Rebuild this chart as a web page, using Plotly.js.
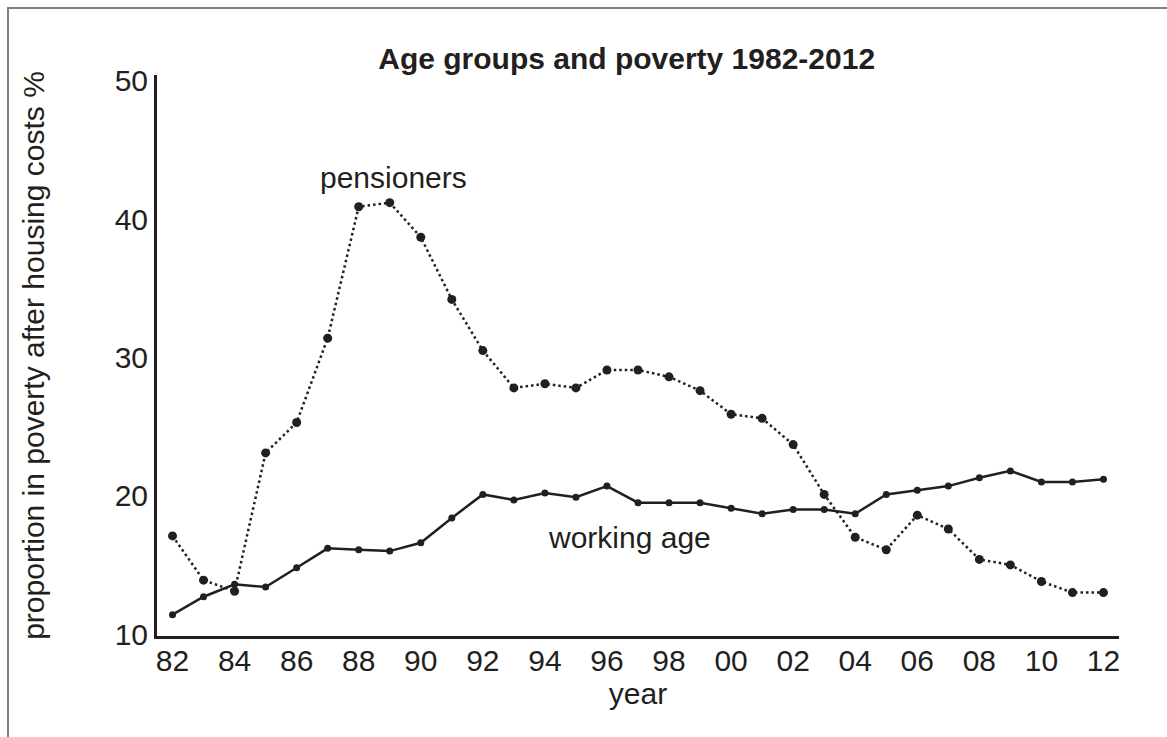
<!DOCTYPE html>
<html>
<head>
<meta charset="utf-8">
<script src="https://cdn.plot.ly/plotly-3.0.1.min.js"></script>
<style>
html,body{margin:0;padding:0;background:#fff;overflow:hidden;}
#chart{width:1167px;height:737px;}
#frame{position:absolute;left:7px;top:7px;width:1200px;height:800px;border-left:2px solid #808080;border-top:2px solid #808080;pointer-events:none;}
</style>
</head>
<body>
<div id="chart"></div>
<div id="frame"></div>
<script>
const years = [1982,1983,1984,1985,1986,1987,1988,1989,1990,1991,1992,1993,1994,1995,1996,1997,1998,1999,2000,2001,2002,2003,2004,2005,2006,2007,2008,2009,2010,2011,2012];
const workingAge = [11.4,12.7,13.6,13.4,14.8,16.2,16.1,16.0,16.6,18.4,20.1,19.7,20.2,19.9,20.7,19.5,19.5,19.5,19.1,18.7,19.0,19.0,18.7,20.1,20.4,20.7,21.3,21.8,21.0,21.0,21.2];
const pensioners = [17.1,13.9,13.1,23.1,25.3,31.4,40.9,41.2,38.7,34.2,30.5,27.8,28.1,27.8,29.1,29.1,28.6,27.6,25.9,25.6,23.7,20.1,17.0,16.1,18.6,17.6,15.4,15.0,13.8,13.0,13.0];
const xTickVals = [1982,1984,1986,1988,1990,1992,1994,1996,1998,2000,2002,2004,2006,2008,2010,2012];
const xTickText = ['82','84','86','88','90','92','94','96','98','00','02','04','06','08','10','12'];
const yTickVals = [10,20,30,40,50];
const seriesLabels = ['pensioners','working age'];
const chartTitle = 'Age groups and poverty 1982-2012';
const xTitle = 'year';
const yTitle = 'proportion in poverty after housing costs %';

const ink = '#231f20';
const fontFam = 'Liberation Sans, Arial, Helvetica, sans-serif';

const traces = [
  {x: years, y: pensioners, type: 'scatter', mode: 'lines+markers', name: seriesLabels[0],
   line: {color: ink, width: 2.5, dash: '2.5px,3px'}, marker: {color: ink, size: 9}},
  {x: years, y: workingAge, type: 'scatter', mode: 'lines+markers', name: seriesLabels[1],
   line: {color: ink, width: 2.5}, marker: {color: ink, size: 7}}
];

const layout = {
  width: 1167, height: 737,
  margin: {l: 157, r: 48, t: 75, b: 101},
  paper_bgcolor: '#fff', plot_bgcolor: '#fff',
  showlegend: false,
  font: {family: fontFam, size: 30, color: ink},
  title: {text: '<b>' + chartTitle + '</b>', font: {family: fontFam, size: 30, color: ink},
          xref: 'container', x: 0.537, xanchor: 'center', yref: 'container', y: 0.921, yanchor: 'middle'},
  xaxis: {range: [1981.5, 2012.5], tickvals: xTickVals, ticktext: xTickText, showgrid: false, zeroline: false,
          showline: true, linecolor: ink, linewidth: 3, ticks: '', ticklabelstandoff: -4,
          tickfont: {size: 30, color: ink},
          title: {text: xTitle, font: {size: 30, color: ink}, standoff: 4}},
  yaxis: {range: [9.86, 50.43], tickvals: yTickVals, showgrid: false, zeroline: false,
          showline: true, linecolor: ink, linewidth: 3, ticks: '', ticklabelstandoff: 0,
          tickfont: {size: 30, color: ink},
          title: {text: yTitle, font: {size: 30, color: ink}, standoff: 62}},
  annotations: [
    {x: 1989.13, y: 43.05, xref: 'x', yref: 'y', text: seriesLabels[0], showarrow: false,
     font: {size: 30, color: ink}},
    {x: 1996.74, y: 17.0, xref: 'x', yref: 'y', text: seriesLabels[1], showarrow: false,
     font: {size: 30, color: ink}}
  ]
};

Plotly.newPlot('chart', traces, layout, {displayModeBar: false, staticPlot: true});
</script>
</body>
</html>
